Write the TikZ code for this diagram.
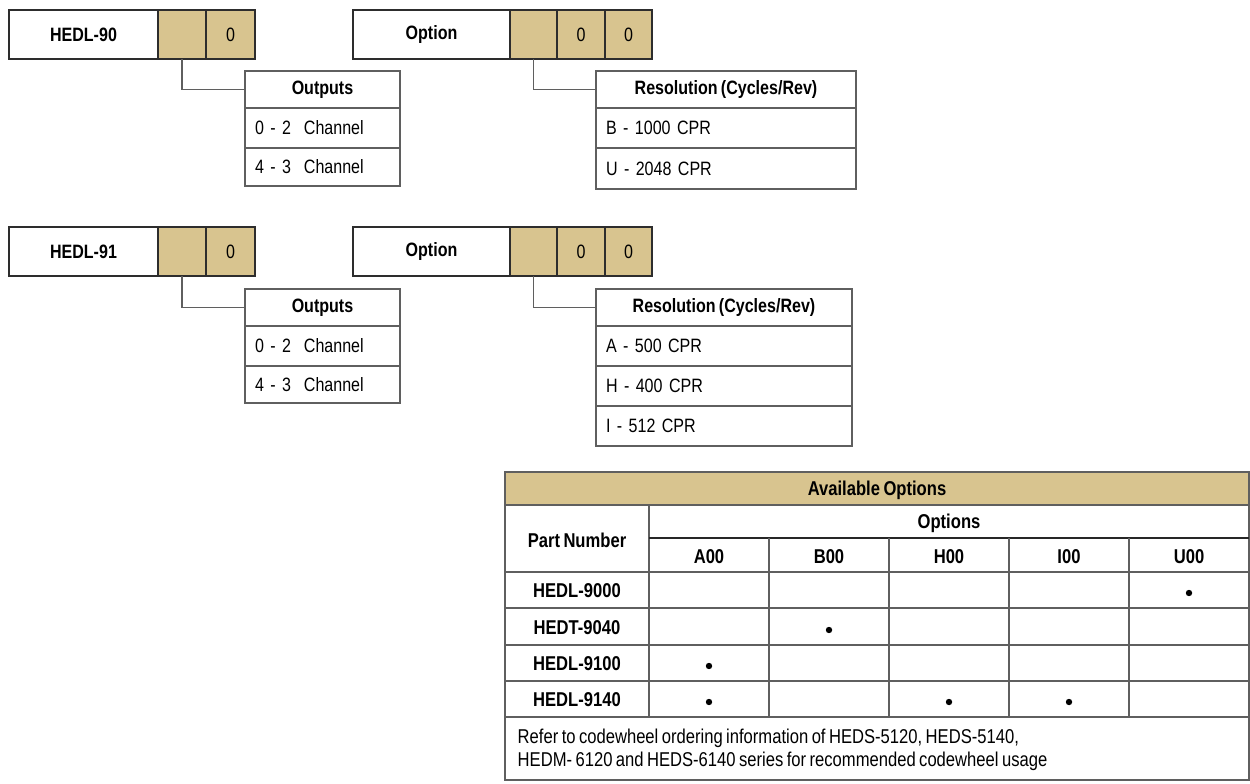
\documentclass[tikz,border=0pt]{standalone}
\usepackage{fontspec}
\setmainfont{Liberation Sans}[FakeStretch=0.83, WordSpace=0.75]
\usetikzlibrary{positioning}

\definecolor{codetan}{RGB}{216,196,143}
\definecolor{boxline}{RGB}{45,45,45}
\definecolor{gridline}{RGB}{95,95,95}

\tikzset{
  boxw/.style={minimum width=#1*0.75pt},
  boxh/.style={minimum height=#1*0.75pt},
  codebox/.style={draw=boxline, line width=1.8pt, inner sep=0, outer sep=0, anchor=north west},
  codecell/.style={codebox, fill=codetan, boxw=#1, boxh=49},
  subcell/.style={draw=gridline, line width=0.9pt, inner sep=0, outer sep=0, fill=white},
  subhead/.style={subcell, anchor=north west, font=\fontsize{14.5}{17}\selectfont\bfseries},
  subrow/.style={subcell, text width=#1*0.75pt-15pt, inner xsep=7.5pt, align=left},
  link/.style={draw=gridline, line width=0.8pt},
  tabline/.style={draw=gridline, line width=1pt},
  tabtext/.style={font=\fontsize{15}{17.25}\selectfont\bfseries},
  dot/.style={fill=black}
}

\begin{document}
\begin{tikzpicture}[x=0.75pt, y=-0.75pt, font=\fontsize{14.5}{17}\selectfont]
    \useasboundingbox (0,0) rectangle (1250,784);

    % ---- HEDL-90 ----
    \node[codebox, boxw=149, boxh=49] (hedl90) at (9,10) {\bfseries HEDL-90};
    \node[codecell=48, right=0pt of hedl90] (hedl90a) {};
    \node[codecell=49, right=0pt of hedl90a] (hedl90b) {0};
    \node[codebox, boxw=157, boxh=49] (opt90) at (353,10) {\bfseries Option};
    \node[codecell=47, right=0pt of opt90] (opt90a) {};
    \node[codecell=48, right=0pt of opt90a] (opt90b) {0};
    \node[codecell=47, right=0pt of opt90b] (opt90c) {0};

    \node[subhead, boxw=155, boxh=37] (out90) at (245,71) {Outputs};
    \node[subrow=155, boxh=40, below=0pt of out90] (out90r1) {0 - 2~ Channel};
    \node[subrow=155, boxh=38, below=0pt of out90r1] (out90r2) {4 - 3~ Channel};

    \node[subhead, boxw=260, boxh=37] (res90) at (596,71) {Resolution (Cycles/Rev)};
    \node[subrow=260, boxh=40, below=0pt of res90] (res90r1) {B - 1000 CPR};
    \node[subrow=260, boxh=41, below=0pt of res90r1] (res90r2) {U - 2048 CPR};

    \draw[link] (hedl90a.south) |- (out90.west);
    \draw[link] (opt90a.south) |- (res90.west);

    % ---- HEDL-91 ----
    \node[codebox, boxw=149, boxh=49] (hedl91) at (9,227) {\bfseries HEDL-91};
    \node[codecell=48, right=0pt of hedl91] (hedl91a) {};
    \node[codecell=49, right=0pt of hedl91a] (hedl91b) {0};
    \node[codebox, boxw=157, boxh=49] (opt91) at (353,227) {\bfseries Option};
    \node[codecell=47, right=0pt of opt91] (opt91a) {};
    \node[codecell=48, right=0pt of opt91a] (opt91b) {0};
    \node[codecell=47, right=0pt of opt91b] (opt91c) {0};

    \node[subhead, boxw=155, boxh=37] (out91) at (245,289) {Outputs};
    \node[subrow=155, boxh=40, below=0pt of out91] (out91r1) {0 - 2~ Channel};
    \node[subrow=155, boxh=37, below=0pt of out91r1] (out91r2) {4 - 3~ Channel};

    \node[subhead, boxw=256, boxh=37] (res91) at (596,289) {Resolution (Cycles/Rev)};
    \node[subrow=256, boxh=40, below=0pt of res91] (res91r1) {A - 500 CPR};
    \node[subrow=256, boxh=40, below=0pt of res91r1] (res91r2) {H - 400 CPR};
    \node[subrow=256, boxh=40, below=0pt of res91r2] (res91r3) {I - 512 CPR};

    \draw[link] (hedl91a.south) |- (out91.west);
    \draw[link] (opt91a.south) |- (res91.west);

    % ---- options table ----
    \fill[codetan] (505,472) rectangle (1249,505);
    \draw[tabline] (505,472) rectangle (1249,780);
    \draw[tabline] (505,505) -- (1249,505);
    \draw[tabline] (649,505) -- (649,717);
    \draw[draw=black!85, line width=0.9pt] (649,538) -- (1249,538);
    \foreach \x in {769,889,1009,1129}
        \draw[tabline] (\x,538) -- (\x,717);
    \foreach \y in {572,608,645,681,717}
        \draw[tabline] (505,\y) -- (1249,\y);

    \node[tabtext] (avail) at (877,490) {Available Options};
    \node[tabtext] (partno) at (577,540) {Part Number};
    \node[tabtext] (opts) at (949,523) {Options};
    \foreach \lbl [count=\i] in {A00,B00,H00,I00,U00}
        \node[tabtext] (col\lbl) at (589+120*\i,557) {\lbl};
    \foreach \lbl/\y in {HEDL-9000/591,HEDT-9040/628,HEDL-9100/664,HEDL-9140/700}
        \node[tabtext] (row\lbl) at (577,\y) {\lbl};
    \foreach \x/\y in {1189/593,829/630,709/666,709/702,949/702,1069/702}
        \fill[dot] (\x,\y) circle (2.4pt);

    \node[anchor=west, align=left, font=\fontsize{15}{17.25}\selectfont] (note) at (513,750)
        {Refer to codewheel ordering information of HEDS-5120, HEDS-5140,\\
         HEDM- 6120 and HEDS-6140 series for recommended codewheel usage};
\end{tikzpicture}
\end{document}
